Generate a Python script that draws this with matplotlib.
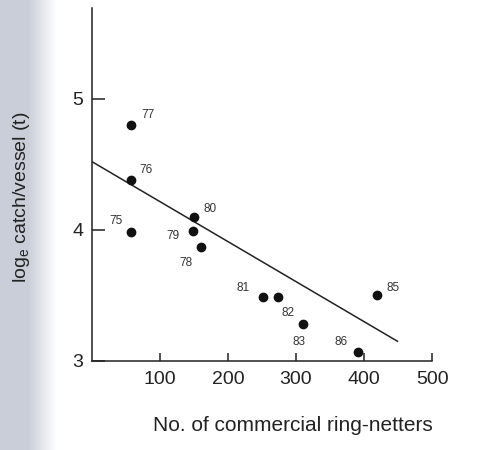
import numpy as np
import matplotlib
matplotlib.use("Agg")
import matplotlib.pyplot as plt

plt.rcParams['font.family'] = ['Liberation Sans', 'DejaVu Sans']

# fishing seasons (year labels), fleet size and log catch per vessel
years   = ['75', '76', '77', '78', '79', '80', '81', '82', '83', '85', '86']
netters = [58, 58, 58, 160, 148, 150, 252, 273, 311, 419, 391]
logcpue = [3.98, 4.38, 4.80, 3.87, 3.99, 4.10, 3.49, 3.49, 3.28, 3.50, 3.07]

# fitted regression line end points
fit_x = [0, 449]
fit_y = [4.52, 3.15]

# label offsets (points) for each year tag
lab_dx = [-16, 6, 7, -15, -19, 7, -19, 3, -8, 7, -17]
lab_dy = [6, 5, 5, -14, -6, 3, 4, -14, -15, 3, 5]

fig = plt.figure(figsize=(4.78, 4.5), dpi=100)

# bluish grey strip along the left edge of the page
bg = fig.add_axes([0, 0, 1, 1], zorder=-1)
cols = np.arange(478)
fade = np.clip((cols - 28) / 28.0, 0, 1)
base = np.array([0.79, 0.81, 0.85])
img = np.ones((10, 478, 3))
for k in range(3):
    img[:, :, k] = base[k] + (1 - base[k]) * fade
bg.imshow(img, aspect='auto', extent=[0, 1, 0, 1])
bg.axis('off')

ax = fig.add_axes([0.192, 0.198, 0.712, 0.784])
ax.patch.set_alpha(0)
ax.plot(fit_x, fit_y, color='#222222', lw=1.1)
ax.scatter(netters, logcpue, s=36, color='#111111', zorder=3)
for x, y, t, dx, dy in zip(netters, logcpue, years, lab_dx, lab_dy):
    ax.annotate(t, (x, y), xytext=(dx, dy), textcoords='offset points',
                fontsize=8.5, color='#333333')

ax.set_xlim(0, 500)
ax.set_ylim(3, 5.69)
ax.set_xticks([100, 200, 300, 400, 500])
ax.set_yticks([3, 4, 5])
ax.spines['top'].set_visible(False)
ax.spines['right'].set_visible(False)
for s in ('left', 'bottom'):
    ax.spines[s].set_color('#222222')
    ax.spines[s].set_linewidth(1.1)
ax.tick_params(axis='x', direction='in', length=6, width=1.1, labelsize=14,
               colors='#222222', pad=7)
ax.tick_params(axis='y', direction='in', length=9, width=1.1, labelsize=14,
               colors='#222222', pad=6)

ax.set_xlabel('No. of commercial ring-netters', fontsize=15, color='#222222')
ax.xaxis.set_label_coords(0.59, -0.155)
ax.set_ylabel('log$_\\mathregular{e}$ catch/vessel (t)', fontsize=14,
              color='#222222')
ax.yaxis.set_label_coords(-0.175, 0.465)

fig.savefig('out.png', dpi=100)
